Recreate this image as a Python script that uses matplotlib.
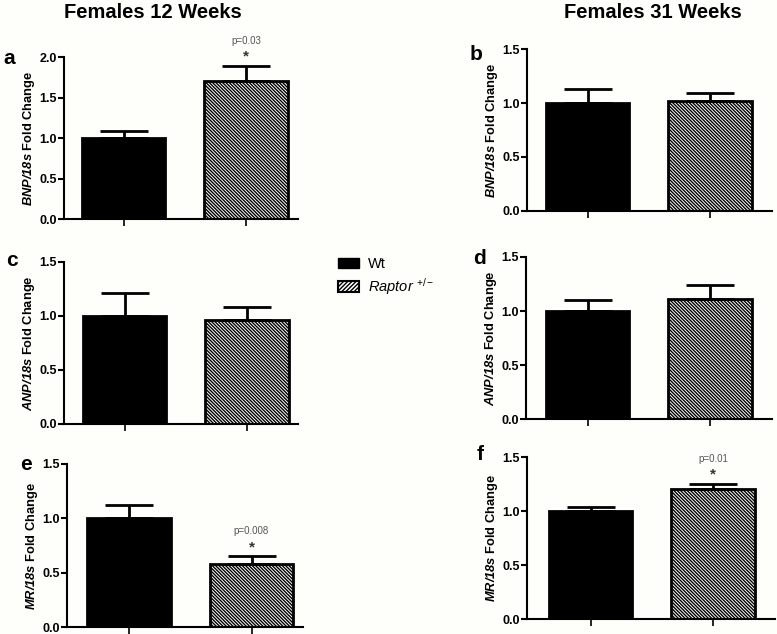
import matplotlib
matplotlib.use("Agg")
import matplotlib.pyplot as plt
from matplotlib.patches import Patch

plt.rcParams['font.family'] = ['Liberation Sans', 'DejaVu Sans']
plt.rcParams['mathtext.fontset'] = 'custom'
plt.rcParams['mathtext.rm'] = 'Liberation Sans'
plt.rcParams['mathtext.it'] = 'Liberation Sans:italic'
plt.rcParams['mathtext.bf'] = 'Liberation Sans:italic:bold'
plt.rcParams['hatch.linewidth'] = 1.0

# data (mean fold change, upper SEM)
groups = ["Wt", "Raptor +/-"]
panels = ["a", "b", "c", "d", "e", "f"]
genes = ["BNP", "BNP", "ANP", "ANP", "MR", "MR"]
means = [[1.00, 1.70], [1.00, 1.02], [1.00, 0.96],
         [1.00, 1.11], [1.00, 0.58], [1.00, 1.20]]
errs = [[0.09, 0.19], [0.13, 0.07], [0.21, 0.12],
        [0.10, 0.13], [0.12, 0.07], [0.04, 0.05]]
ymax = [2.0, 1.5, 1.5, 1.5, 1.5, 1.5]
pvals = ["p=0.03", None, None, None, "p=0.008", "p=0.01"]
col_titles = ["Females 12 Weeks", "Females 31 Weeks"]

W, H = 777, 634
fig = plt.figure(figsize=(W / 100, H / 100), dpi=100, facecolor='#fefefb')

# pixel boxes: x0, x1, ytop, ybottom, first bar centre
boxes = [(64, 298, 57, 219, 123.5),
         (527, 772, 49, 211, 587.5),
         (64, 298, 262, 424, 124.5),
         (526, 772, 257, 419, 587.5),
         (67, 303, 464, 627, 129.0),
         (527, 775, 457, 619, 590.5)]
unit = 122.5
letter_pos = [(3, 58), (470, 54), (6, 261), (473, 259), (20, 464), (477, 455)]
hatch = '\\' * 10

for i, p in enumerate(panels):
    x0, x1, yt, yb, c0 = boxes[i]
    ax = fig.add_axes([x0 / W, 1 - yb / H, (x1 - x0) / W, (yb - yt) / H])
    ax.set_facecolor('none')
    ax.bar([0], [means[i][0]], width=0.68, color='black', edgecolor='black', linewidth=2)
    ax.bar([1], [means[i][1]], width=0.68, color='white', edgecolor='black',
           linewidth=2, hatch=hatch)
    ax.errorbar([0, 1], means[i], yerr=[[0, 0], errs[i]], fmt='none', ecolor='black',
                elinewidth=2, capsize=17, capthick=2)
    ax.set_xlim((x0 - c0) / unit, (x1 - c0) / unit)
    ax.set_ylim(0, ymax[i])
    ticks = [k * 0.5 for k in range(int(ymax[i] / 0.5) + 1)]
    ax.set_yticks(ticks)
    ax.set_yticklabels(["%.1f" % t for t in ticks], fontweight='bold', fontsize=9)
    ax.set_xticks([0, 1])
    ax.set_xticklabels([])
    ax.tick_params(axis='y', length=4, width=1.5, pad=1)
    ax.tick_params(axis='x', length=5, width=1.2)
    for s in ['top', 'right']:
        ax.spines[s].set_visible(False)
    for s in ['left', 'bottom']:
        ax.spines[s].set_linewidth(1.5)
    ax.set_ylabel(r'$\mathbf{%s/18s}$ Fold Change' % genes[i], fontweight='bold',
                  fontsize=9.3, labelpad=2)
    if pvals[i]:
        top = means[i][1] + errs[i][1]
        step = ymax[i] / 1.5 * 0.1
        ax.text(1, top + step * 0.85, "*", ha='center', va='center', fontsize=11,
                fontweight='bold', color='#333333', clip_on=False)
        ax.text(1, top + step * 2.3, pvals[i], ha='center', va='center', fontsize=7,
                color='#555555', clip_on=False)
    lx, ly = letter_pos[i]
    fig.text(lx / W, 1 - ly / H, p, fontsize=15, fontweight='bold', ha='left', va='center')

fig.text(153 / W, 1 - 13 / H, col_titles[0], fontsize=14.5, fontweight='bold', ha='center', va='center')
fig.text(653 / W, 1 - 13 / H, col_titles[1], fontsize=14.5, fontweight='bold', ha='center', va='center')

handles = [Patch(facecolor='black', edgecolor='black'),
           Patch(facecolor='white', edgecolor='black', hatch='/' * 8, linewidth=1.5)]
labels = [groups[0], r'$\it{Raptor}$ $^{\rm{+/-}}$']
fig.legend(handles, labels, loc='upper left', bbox_to_anchor=(338 / W, 1 - 257 / H),
           frameon=False, fontsize=10.5, handlelength=1.45, handleheight=0.7,
           handletextpad=0.6, labelspacing=0.35, borderpad=0, borderaxespad=0)

fig.savefig("out.png", dpi=100, facecolor=fig.get_facecolor())
